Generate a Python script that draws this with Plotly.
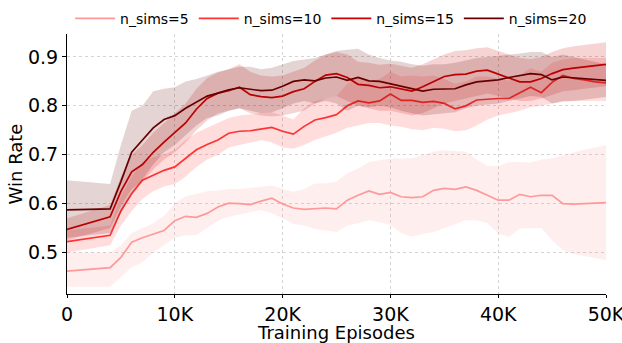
import plotly.graph_objects as go

# Training episodes (thousands) at which win rate was evaluated
episodes_k = [0, 4, 5, 6, 7, 8, 9, 10, 11, 12, 13, 14, 15, 16, 17, 18, 19, 20,
              21, 22, 23, 24, 25, 26, 27, 28, 29, 30, 31, 32, 33, 34, 35, 36,
              37, 38, 39, 40, 41, 42, 43, 44, 45, 46, 47, 48, 49, 50]

# n_sims = 5
sims5_mean = [0.462, 0.469, 0.490, 0.521, 0.530, 0.537, 0.545, 0.565, 0.574, 0.572,
              0.580, 0.593, 0.601, 0.600, 0.598, 0.605, 0.611, 0.599, 0.591, 0.588,
              0.590, 0.591, 0.589, 0.607, 0.617, 0.626, 0.619, 0.623, 0.614, 0.612,
              0.614, 0.627, 0.631, 0.629, 0.634, 0.627, 0.617, 0.607, 0.607, 0.619,
              0.614, 0.617, 0.617, 0.600, 0.599, 0.600, 0.601, 0.602]
sims5_upper = [0.500, 0.500, 0.515, 0.540, 0.550, 0.560, 0.575, 0.600, 0.615, 0.620,
               0.625, 0.627, 0.630, 0.630, 0.632, 0.635, 0.637, 0.630, 0.624, 0.630,
               0.641, 0.641, 0.645, 0.662, 0.672, 0.685, 0.688, 0.692, 0.692, 0.693,
               0.700, 0.706, 0.709, 0.708, 0.706, 0.690, 0.677, 0.677, 0.685, 0.685,
               0.684, 0.690, 0.692, 0.699, 0.705, 0.710, 0.715, 0.720]
sims5_lower = [0.430, 0.430, 0.450, 0.470, 0.480, 0.500, 0.515, 0.530, 0.535, 0.535,
               0.550, 0.565, 0.573, 0.578, 0.582, 0.587, 0.580, 0.570, 0.558, 0.555,
               0.548, 0.545, 0.542, 0.555, 0.560, 0.566, 0.562, 0.556, 0.540, 0.532,
               0.538, 0.542, 0.550, 0.558, 0.566, 0.566, 0.560, 0.539, 0.532, 0.549,
               0.550, 0.550, 0.525, 0.505, 0.497, 0.492, 0.488, 0.484]

# n_sims = 10
sims10_mean = [0.522, 0.535, 0.585, 0.620, 0.648, 0.658, 0.668, 0.675, 0.693, 0.710,
               0.721, 0.730, 0.744, 0.748, 0.749, 0.753, 0.756, 0.748, 0.742, 0.758,
               0.771, 0.776, 0.782, 0.800, 0.810, 0.806, 0.810, 0.824, 0.811, 0.811,
               0.807, 0.809, 0.805, 0.794, 0.800, 0.812, 0.814, 0.815, 0.815, 0.826,
               0.838, 0.827, 0.848, 0.862, 0.856, 0.853, 0.849, 0.847]
sims10_upper = [0.545, 0.555, 0.615, 0.655, 0.685, 0.695, 0.700, 0.710, 0.730, 0.745,
                0.755, 0.765, 0.775, 0.780, 0.782, 0.785, 0.787, 0.780, 0.772, 0.795,
                0.810, 0.815, 0.820, 0.845, 0.860, 0.850, 0.855, 0.870, 0.860, 0.862,
                0.860, 0.862, 0.855, 0.845, 0.850, 0.860, 0.860, 0.855, 0.852, 0.862,
                0.877, 0.870, 0.888, 0.895, 0.898, 0.898, 0.898, 0.898]
sims10_lower = [0.500, 0.515, 0.555, 0.585, 0.610, 0.625, 0.635, 0.640, 0.655, 0.675,
                0.690, 0.700, 0.715, 0.720, 0.725, 0.730, 0.725, 0.715, 0.712, 0.720,
                0.730, 0.738, 0.745, 0.755, 0.760, 0.765, 0.765, 0.760, 0.757, 0.752,
                0.750, 0.755, 0.753, 0.748, 0.750, 0.760, 0.772, 0.780, 0.785, 0.790,
                0.797, 0.800, 0.805, 0.808, 0.810, 0.810, 0.810, 0.810]

# n_sims = 15
sims15_mean = [0.547, 0.573, 0.625, 0.665, 0.680, 0.705, 0.726, 0.745, 0.765, 0.793,
               0.815, 0.826, 0.831, 0.838, 0.823, 0.819, 0.817, 0.820, 0.829, 0.835,
               0.850, 0.863, 0.866, 0.858, 0.844, 0.842, 0.837, 0.839, 0.835, 0.830,
               0.839, 0.849, 0.860, 0.864, 0.865, 0.871, 0.873, 0.865, 0.857, 0.849,
               0.849, 0.856, 0.866, 0.874, 0.877, 0.880, 0.883, 0.885]
sims15_upper = [0.570, 0.597, 0.655, 0.700, 0.720, 0.745, 0.765, 0.785, 0.805, 0.835,
                0.857, 0.868, 0.875, 0.885, 0.870, 0.862, 0.860, 0.862, 0.870, 0.878,
                0.893, 0.905, 0.910, 0.905, 0.890, 0.888, 0.884, 0.886, 0.882, 0.878,
                0.885, 0.895, 0.905, 0.912, 0.914, 0.918, 0.920, 0.912, 0.905, 0.898,
                0.896, 0.900, 0.910, 0.918, 0.922, 0.925, 0.928, 0.930]
sims15_lower = [0.525, 0.550, 0.595, 0.630, 0.645, 0.670, 0.690, 0.705, 0.725, 0.750,
                0.770, 0.785, 0.790, 0.795, 0.785, 0.780, 0.778, 0.780, 0.785, 0.790,
                0.805, 0.815, 0.820, 0.810, 0.800, 0.795, 0.790, 0.790, 0.785, 0.780,
                0.785, 0.795, 0.805, 0.810, 0.815, 0.820, 0.825, 0.820, 0.815, 0.810,
                0.810, 0.815, 0.822, 0.830, 0.832, 0.835, 0.838, 0.840]

# n_sims = 20
sims20_mean = [0.587, 0.589, 0.645, 0.705, 0.730, 0.755, 0.772, 0.780, 0.795, 0.808,
               0.820, 0.826, 0.833, 0.837, 0.834, 0.831, 0.832, 0.840, 0.850, 0.853,
               0.851, 0.857, 0.859, 0.852, 0.858, 0.851, 0.850, 0.845, 0.839, 0.835,
               0.830, 0.834, 0.834, 0.835, 0.843, 0.849, 0.851, 0.853, 0.858, 0.862,
               0.866, 0.864, 0.853, 0.859, 0.857, 0.855, 0.853, 0.852]
sims20_upper = [0.648, 0.640, 0.720, 0.790, 0.800, 0.830, 0.835, 0.838, 0.850, 0.855,
                0.862, 0.870, 0.875, 0.880, 0.880, 0.875, 0.878, 0.885, 0.892, 0.895,
                0.898, 0.905, 0.912, 0.915, 0.917, 0.905, 0.898, 0.893, 0.890, 0.885,
                0.882, 0.885, 0.885, 0.888, 0.893, 0.898, 0.900, 0.902, 0.905, 0.907,
                0.910, 0.910, 0.900, 0.905, 0.900, 0.895, 0.890, 0.885]
sims20_lower = [0.530, 0.540, 0.580, 0.620, 0.650, 0.680, 0.705, 0.720, 0.740, 0.760,
                0.775, 0.780, 0.790, 0.795, 0.790, 0.785, 0.787, 0.795, 0.805, 0.810,
                0.805, 0.810, 0.805, 0.790, 0.800, 0.797, 0.800, 0.797, 0.790, 0.785,
                0.780, 0.783, 0.785, 0.787, 0.795, 0.800, 0.803, 0.805, 0.810, 0.815,
                0.820, 0.818, 0.805, 0.810, 0.810, 0.812, 0.815, 0.818]

series = [
    ("n_sims=5", sims5_mean, sims5_lower, sims5_upper, (255, 153, 153)),
    ("n_sims=10", sims10_mean, sims10_lower, sims10_upper, (255, 51, 51)),
    ("n_sims=15", sims15_mean, sims15_lower, sims15_upper, (204, 0, 0)),
    ("n_sims=20", sims20_mean, sims20_lower, sims20_upper, (102, 0, 0)),
]

x_tick_vals = [0, 10000, 20000, 30000, 40000, 50000]
x_tick_text = ["0", "10K", "20K", "30K", "40K", "50K"]
y_tick_vals = [0.5, 0.6, 0.7, 0.8, 0.9]

episodes = [k * 1000 for k in episodes_k]

fig = go.Figure()
for name, mean, lower, upper, (r, g, b) in series:
    # shaded spread band, then the mean curve on top of it
    fig.add_trace(go.Scatter(
        x=episodes + episodes[::-1],
        y=upper + lower[::-1],
        fill="toself",
        fillcolor=f"rgba({r},{g},{b},0.17)",
        line=dict(width=0),
        mode="lines",
        hoverinfo="skip",
        showlegend=False,
    ))
    fig.add_trace(go.Scatter(
        x=episodes, y=mean, mode="lines", name=name,
        line=dict(color=f"rgb({r},{g},{b})", width=1.7),
    ))

axis_font = dict(family="DejaVu Sans", size=19, color="black")
title_font = dict(family="DejaVu Sans", size=18, color="black")
fig.update_layout(
    width=622, height=343,
    margin=dict(l=67, r=16, t=34, b=49, autoexpand=False),
    paper_bgcolor="white", plot_bgcolor="white",
    font=dict(family="DejaVu Sans", color="black"),
    legend=dict(
        orientation="h", x=0.49, xanchor="center",
        yref="container", y=0.945, yanchor="middle",
        font=dict(size=14, family="DejaVu Sans"),
        itemwidth=40, bgcolor="rgba(0,0,0,0)",
    ),
    xaxis=dict(
        range=[0, 50000], tickvals=x_tick_vals, ticktext=x_tick_text,
        tickfont=axis_font, showline=True, linecolor="black", linewidth=1.2,
        ticks="outside", ticklen=3, tickcolor="black",
        ticklabeloverflow="allow",
        showgrid=True, gridcolor="#d4d4d4", griddash="dot", gridwidth=1,
        zeroline=False, automargin=False,
        title=dict(text="Training Episodes", font=title_font, standoff=0),
    ),
    yaxis=dict(
        range=[0.415, 0.947], tickvals=y_tick_vals,
        tickformat=".1f",
        tickfont=axis_font, showline=True, linecolor="black", linewidth=1.2,
        ticks="outside", ticklen=4, tickcolor="black",
        showgrid=True, gridcolor="#d4d4d4", griddash="dot", gridwidth=1,
        zeroline=False, automargin=False,
        title=dict(text="Win Rate", font=title_font, standoff=0),
    ),
)

fig.write_html("out.html")
